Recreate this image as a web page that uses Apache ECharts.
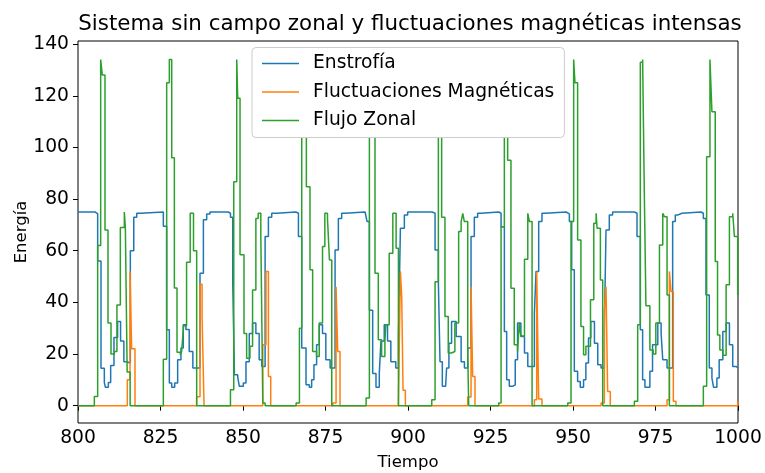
<!DOCTYPE html>
<html>
<head>
<meta charset="utf-8">
<script src="https://cdn.jsdelivr.net/npm/echarts@6/dist/echarts.min.js"></script>
<style>html,body{margin:0;padding:0;background:#fff;}#c{width:765px;height:473px;}</style>
</head>
<body>
<div id="c"></div>
<script>
// Step breakpoints [tiempo, valor] (value holds until the next breakpoint)
var enstrofia = [
  [800,75],
  [805.15,74.3],[805.96,56],[806.97,14.5],[807.98,9],[808.3,7.1],[809.2,9],[809.9,15.6],[810.9,26.4],[812.0,32.6],[812.9,25],[813.9,17],[814.7,16.5],[815.86,60],[816.9,73],[817.8,74.5],[819.1,75],
  [825.86,69.5],[826.87,29.4],[827.68,8.8],[828.4,7.1],[829.3,8.8],[830.2,17.8],[831.2,22.3],[831.9,31.3],[832.7,29.5],[833.7,21],[834.8,14.6],[836.97,51.3],[838.0,72],[839.0,74.2],[840.0,75],
  [845.5,74.5],[846.2,73],[846.9,46.8],[847.4,12],[848.4,11],[848.9,7.5],[850.1,8.8],[850.9,17],[851.9,28],[852.9,32],[853.9,28],[854.9,17.8],[855.7,15.2],[856.7,65.5],[857.7,73],[858.7,74.5],[860.2,75],
  [866.0,74.5],[866.8,65.5],[867.8,22.3],[869.1,8.1],[870.1,7.1],[870.8,10],[871.5,15.9],[872.3,23.6],[873.1,31.3],[874.1,28],[875.1,17.8],[876.4,14.6],[877.9,60.3],[878.9,72.5],[879.9,74.5],[881.0,75],
  [887.0,74.5],[887.6,71.3],[888.3,37],[889.3,12.5],[890.3,7.1],[891.3,12.5],[891.8,25],[892.8,31.3],[893.8,25],[894.8,17],[896.3,14.6],[897.1,26.8],[897.7,68.7],[898.9,73.8],[899.9,75],
  [907.3,74.5],[908.2,60.3],[909.2,47.9],[909.7,17],[910.4,7.5],[911.4,8.1],[911.7,14.6],[912.4,24.2],[913.2,32.6],[914.6,26.8],[916.1,17],[917.1,14.6],[918.1,22.3],[919.1,65.5],[920.1,73],[921.1,74.5],[922.1,75],
  [927.5,74.5],[928.2,69.3],[929.2,28.7],[929.9,10],[930.7,7.5],[931.7,8.1],[932.5,17.8],[933.2,32],[934.2,26.8],[935.3,20.4],[936.3,15.2],[938.3,35.8],[938.8,52],[939.6,71.3],[940.6,74.5],[941.6,75],
  [947.9,74.3],[948.9,71.3],[949.6,52.6],[950.4,13.3],[951.4,9.4],[952.2,7.1],[953.2,10],[953.9,16.5],[954.7,26.2],[955.4,32.6],[956.5,24.2],[957.5,15.9],[958.5,14.6],[959.5,29.4],[960.0,68],[961.0,73.8],[962.0,75],
  [968.6,74.5],[969.4,65.5],[970.4,29.4],[971.1,10],[971.8,7.1],[973.3,13.3],[974.1,23.6],[975.7,32],[976.7,28],[977.2,17.8],[978.5,14.6],[980.2,71.3],[981.0,73.8],[981.7,74.5],[983.0,75],
  [988.8,74.5],[989.5,72.5],[990.3,42.9],[991.3,14.6],[992.1,10.7],[992.6,7.1],[993.6,10.7],[994.3,17.8],[995.4,28.7],[996.4,32],[997.4,23.6],[998.4,15.2],[999.4,14.6],[1000,14.6]
];
var fluctuacionesMagneticas = [
  [800,0],
  [814.95,10],[815.76,52],[816.26,22],[817.27,0],
  [835.96,3.5],[836.97,47],[837.6,34.5],[838.2,0],
  [856.0,23.6],[856.97,52],[857.7,11.3],[858.4,0],
  [877.2,1],[878.2,46],[878.7,21],[879.4,0],
  [897.1,1],[897.7,52],[898.1,42],[898.5,6],[899.2,0],
  [918.1,3.4],[919.1,46],[919.6,11.3],[920.3,0],
  [938.3,2.3],[939.0,52],[939.6,2.6],[940.6,0],
  [958.5,1],[959.5,37],[960.0,46],[960.5,5.5],[961.3,0],
  [978.5,2.3],[979.2,52],[979.7,44.2],[980.4,1.7],[981.2,0],
  [999.9,1.7],[1000,1.7]
];
var flujoZonal = [
  [800,0],
  [804.95,3.6],[805.96,62],[806.87,134],[807.37,128],[808.18,68],[809.09,32],[810.0,20],[811.0,21],[811.8,39],[812.83,69],[814.04,75],[814.35,69],[814.9,13],[815.8,0],
  [825.86,18],[826.87,125],[827.68,134],[828.4,96],[829.2,45.6],[830.0,20.7],[831.0,19.7],[831.4,21],[832.0,31],[832.9,55.5],[834.0,74.5],[835.0,60],[835.96,0],
  [846.2,6.2],[847.2,86.7],[848.1,134],[848.4,119],[849.1,58.4],[850.3,28],[851.1,18.4],[852.1,23],[852.9,44.8],[853.9,72.5],[854.6,74.5],[855.4,66.1],[856.0,1],[856.7,0],
  [866.1,1],[867.1,30],[867.8,134],[869.2,84.8],[870.3,52.6],[871.1,21],[872.3,19],[873.1,32],[874.1,61.6],[874.8,74.5],[875.6,72.5],[876.2,56.4],[876.9,0],
  [887.3,3],[888.3,134],[889.2,110],[890.0,51.3],[891.0,25.5],[892.0,19],[893.0,25],[893.3,31.3],[894.3,59],[895.4,74.5],[896.4,61],[897.1,0],
  [907.2,2.3],[908.2,48],[909.2,134],[910.2,73],[911.2,34.5],[912.2,20.4],[913.2,21],[914.2,32],[915.35,67.4],[916.1,71.3],[916.6,74.5],[917.07,71.3],[918.1,20],[918.4,0],
  [927.5,1],[928.2,69.3],[929.2,134],[930.2,95],[931.2,45.5],[932.2,23.6],[933.2,21],[933.7,32],[934.2,27],[935.3,56.7],[936.3,74.5],[936.8,71.3],[937.6,0],
  [948.4,1],[949.4,71.3],[950.2,134],[950.6,125],[951.4,64.2],[952.4,30.7],[953.2,19.7],[953.9,23],[955.3,41],[956.3,70.6],[957.0,74.5],[957.3,68.7],[958.3,48.7],[959.0,0],
  [968.6,1.7],[969.6,31.3],[970.4,133],[971.1,134],[971.6,83.5],[972.1,38.7],[973.3,21.6],[974.3,20],[975.1,32],[976.2,62.2],[977.2,74.5],[977.7,73.2],[978.5,42.9],[979.2,0],
  [989.5,7.5],[990.5,96.4],[991.5,134],[992.1,113.8],[993.1,55.8],[993.8,27.4],[994.5,21.6],[995.4,19.5],[996.4,46.8],[997.4,73.2],[998.4,74.5],[998.9,65.5],[999.9,42.9],[1000,42.9]
];
var seriesNames = ['Enstrofía', 'Fluctuaciones Magnéticas', 'Flujo Zonal'];
var yTicks = [0, 20, 40, 60, 80, 100, 120, 140];

var FONT = 'DejaVu Sans';
var chart = echarts.init(document.getElementById('c'), null, {renderer: 'canvas'});
function mk(name, data, color) {
  return {
    name: name, type: 'line', data: data, step: 'end',
    symbol: 'none', showSymbol: false, animation: false,
    lineStyle: {color: color, width: 1.5},
    itemStyle: {color: color}
  };
}
chart.setOption({
  animation: false,
  backgroundColor: '#fff',
  title: {
    text: 'Sistema sin campo zonal y fluctuaciones magnéticas intensas',
    left: 410, top: 14, textAlign: 'center', padding: 0,
    textStyle: {fontFamily: FONT, fontSize: 21.4, fontWeight: 'normal', color: '#000'}
  },
  legend: {
    data: seriesNames, orient: 'vertical', left: 252, top: 47.5,
    icon: 'rect',
    padding: [5, 10, 6, 10], itemGap: 6.5, itemWidth: 37, itemHeight: 1.6,
    backgroundColor: '#fff', borderColor: '#cccccc', borderWidth: 1, borderRadius: 4,
    textStyle: {fontFamily: FONT, fontSize: 18.7, color: '#000', lineHeight: 22, padding: [0, 0, 0, 9]}
  },
  grid: {left: 78, right: 27, top: 41, bottom: 50, containLabel: false, outerBoundsMode: 'none',
    show: true, borderColor: '#000', borderWidth: 1, backgroundColor: 'transparent'},
  xAxis: {
    type: 'value', min: 800, max: 1000, interval: 25,
    name: 'Tiempo', nameLocation: 'middle', nameGap: 31, nameMoveOverlap: false,
    nameTextStyle: {fontFamily: FONT, fontSize: 16.5, color: '#000'},
    axisLine: {show: false},
    axisTick: {show: true, length: 5, lineStyle: {color: '#000', width: 1}},
    axisLabel: {fontFamily: FONT, fontSize: 18.7, color: '#000', margin: 6, formatter: function (v) { return String(v); }},
    splitLine: {show: false}
  },
  yAxis: {
    type: 'value', min: -6.7, max: 141.2,
    name: 'Energía', nameLocation: 'middle', nameGap: 48, nameRotate: 90, nameMoveOverlap: false,
    nameTextStyle: {fontFamily: FONT, fontSize: 16.5, color: '#000'},
    axisLine: {show: false},
    axisTick: {show: true, length: 5, customValues: yTicks, lineStyle: {color: '#000', width: 1}},
    axisLabel: {fontFamily: FONT, fontSize: 18.7, color: '#000', margin: 9, customValues: yTicks},
    splitLine: {show: false}
  },
  series: [
    mk(seriesNames[0], enstrofia, '#1f77b4'),
    mk(seriesNames[1], fluctuacionesMagneticas, '#ff7f0e'),
    mk(seriesNames[2], flujoZonal, '#2ca02c')
  ]
});
</script>
</body>
</html>
